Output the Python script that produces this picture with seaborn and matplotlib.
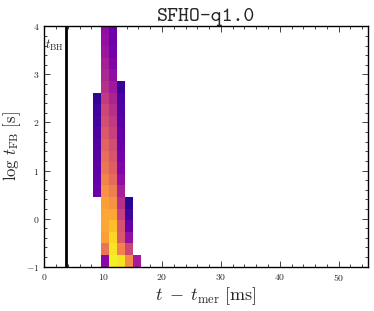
import numpy as np
import pandas as pd
import matplotlib
matplotlib.use("Agg")
import matplotlib.pyplot as plt
from matplotlib.ticker import MultipleLocator, FuncFormatter
import seaborn as sns

# ========== 全局设置 ==========
sns.set_style("ticks")
plt.rcParams['mathtext.fontset'] = 'cm'
plt.rcParams['font.family'] = ['DejaVu Serif']
plt.rcParams['xtick.direction'] = 'in'
plt.rcParams['ytick.direction'] = 'in'

# ========== 数据 ==========
# bins: 40 equal bins in t - t_mer over [0, 55] ms, log t_FB bins of ~0.2415 dex from -1
x_edges = np.linspace(0, 55, 41)
y_edges = -1 + 0.2415 * np.arange(22)

# colour level (0..1 on plasma) per occupied column, listed from the lowest row upward
col_first_row = {6: 6, 7: 0, 8: 0, 9: 0, 10: 0, 11: 0}
col_levels = {
    6: [0.20, 0.18, 0.17, 0.16, 0.15, 0.13, 0.11, 0.09, 0.07],
    7: [0.28, 0.65, 0.78, 0.80, 0.80, 0.78, 0.74, 0.70, 0.66, 0.63, 0.60, 0.56,
        0.53, 0.50, 0.46, 0.42, 0.39, 0.36, 0.33, 0.31, 0.30],
    8: [0.98, 0.95, 0.92, 0.86, 0.80, 0.74, 0.68, 0.62, 0.58, 0.55, 0.52, 0.48,
        0.45, 0.42, 0.38, 0.34, 0.30, 0.26, 0.23, 0.21, 0.20],
    9: [0.95, 0.70, 0.56, 0.54, 0.48, 0.42, 0.36, 0.30, 0.26, 0.23, 0.20, 0.18,
        0.16, 0.14, 0.12, 0.08],
    10: [0.72, 0.50, 0.31, 0.19, 0.10, 0.05],
    11: [0.35],
}
t_bh = 3.6
title = "SFHO-q1.0"

# 组装成长表
rows = []
for col, levels in col_levels.items():
    xc = 0.5 * (x_edges[col] + x_edges[col + 1])
    for i, lev in enumerate(levels):
        k = col_first_row[col] + i
        yc = 0.5 * (y_edges[k] + y_edges[k + 1])
        rows.append((xc, yc, lev))
df = pd.DataFrame(rows, columns=['t', 'logtfb', 'level'])

# ========== 绘图 ==========
fig = plt.figure(figsize=(3.74, 3.11), dpi=100)
ax = fig.add_axes([0.1185, 0.1425, 0.8655, 0.773])

sns.histplot(data=df, x='t', y='logtfb', weights='level',
             bins=[x_edges, y_edges], cmap='plasma', vmin=0, vmax=1, ax=ax)

ax.axvline(t_bh, color='black', lw=2)
ax.text(t_bh - 0.2, 3.6, r'$t_{\rm BH}$', ha='right', va='center', fontsize=9)

ax.set_xlim(0, 55)
ax.set_ylim(-1, 4)
ax.xaxis.set_major_locator(MultipleLocator(10))
ax.xaxis.set_minor_locator(MultipleLocator(2))
ax.yaxis.set_major_locator(MultipleLocator(1))
ax.yaxis.set_minor_locator(MultipleLocator(0.2))
fmt = FuncFormatter(lambda v, p: r'$%g$' % v)
ax.xaxis.set_major_formatter(fmt)
ax.yaxis.set_major_formatter(fmt)
ax.tick_params(which='both', top=True, right=True, labelsize=7, width=0.6)
ax.tick_params(which='major', length=4)
ax.tick_params(which='minor', length=2)
for s in ax.spines.values():
    s.set_color('black')
    s.set_linewidth(1)

ax.set_xlabel(r'$t\;-\;t_{\rm mer}\ [\rm ms]$', fontsize=13, labelpad=2)
ax.set_ylabel(r'$\log\,t_{\rm FB}\ [\rm s]$', fontsize=12, labelpad=2)
ax.set_title(title, fontfamily='cmtt10', fontsize=15, pad=4)

fig.savefig('out.png', dpi=100)
